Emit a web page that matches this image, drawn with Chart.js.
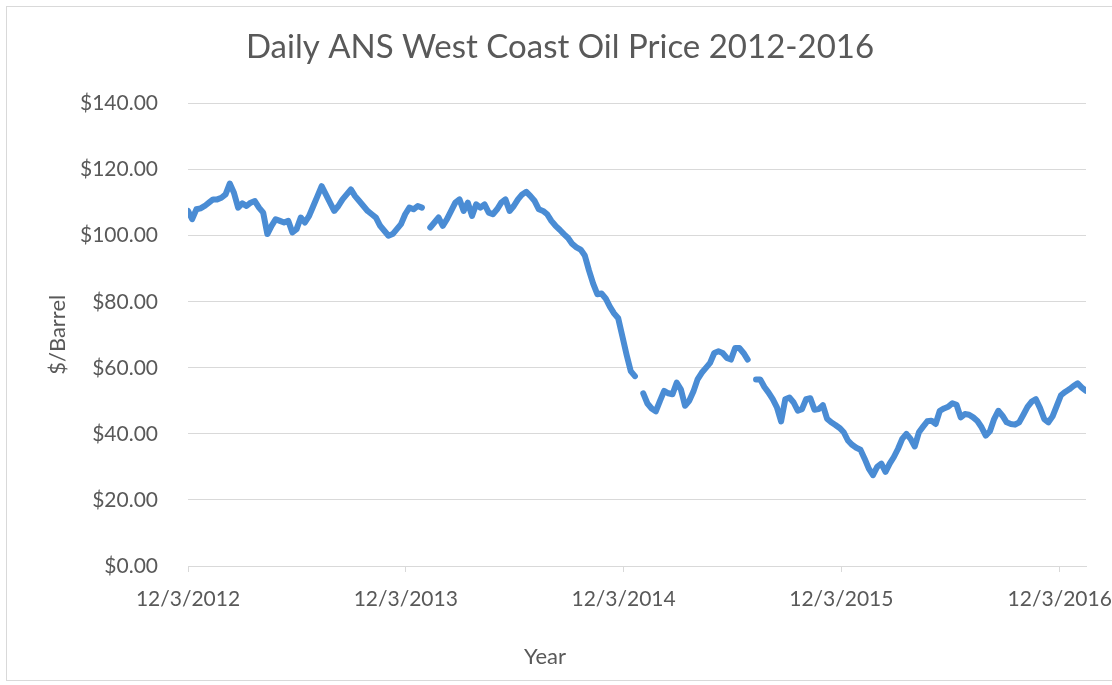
<!DOCTYPE html>
<html>
<head>
<meta charset="utf-8">
<script src="https://cdn.jsdelivr.net/npm/chart.js@4.4.1/dist/chart.umd.min.js"></script>
<style>
  html, body { margin: 0; padding: 0; background: #fff; overflow: hidden; }
  #frame { position: absolute; left: 6px; top: 6px; width: 1120px; height: 673px; border: 1px solid #d9d9d9; }
  canvas { position: absolute; left: 0; top: 0; }
</style>
</head>
<body>
<div id="frame"></div>
<canvas id="chart" width="1112" height="685"></canvas>
<script>
// weekly ANS West Coast price, first value on 12/3/2012 ($/barrel), null = missing
const firstDate = '12/3/2012'
const prices = [
  107.5, 105, 108, 108.3, 109, 110, 111, 111, 111.5, 112.5,
  115.8, 113, 108.5, 109.8, 109, 110, 110.5, 108.5, 107, 100.5,
  103, 105, 104.5, 104, 104.5, 101, 102, 105.5, 104, 106,
  109, 112, 115, 112.5, 110, 107.5, 109, 111, 112.5, 114,
  112, 110.5, 109, 107.5, 106.5, 105.5, 103, 101.5, 100, 100.5,
  102, 103.5, 106.5, 108.5, 108, 109, 108.5, null, 102.5, 104,
  105.5, 103, 105, 107.5, 110, 111, 107.5, 110, 106, 109.5,
  108.5, 109.5, 107, 106.5, 108, 110, 111, 107.5, 109, 111,
  112.5, 113.3, 112, 110.5, 108, 107.5, 106.5, 104.5, 103, 101.8,
  100.5, 99.3, 97.5, 96.5, 95.8, 94, 89.5, 85.5, 82.3, 82.5,
  81, 78.5, 76.5, 75, 69.5, 64, 59, 57.5, null, 52.3,
  49.2, 47.7, 46.8, 50, 53, 52.3, 52, 55.5, 53.5, 48.5,
  50, 52.8, 56.5, 58.5, 60, 61.5, 64.5, 65, 64.5, 63,
  62.5, 66, 66, 64.5, 62.5, null, 56.5, 56.5, 54.2, 52.5,
  50.5, 48, 43.8, 50.5, 51, 49.5, 47, 47.5, 50.5, 50.8,
  47.3, 47.5, 48.7, 44.6, 43.5, 42.7, 41.8, 40.5, 38, 36.7,
  35.8, 35.2, 32.5, 29.5, 27.5, 30, 31, 28.5, 31, 33,
  35.5, 38.5, 40, 38.5, 36.2, 40.5, 42.2, 43.8, 44, 43,
  47, 47.7, 48.2, 49.3, 48.8, 45, 46, 45.8, 45, 43.9,
  42, 39.5, 40.8, 44.5, 47, 45.5, 43.5, 43, 42.8, 43.5,
  45.8, 48.2, 49.8, 50.5, 47.8, 44.5, 43.5, 45.3, 48.5, 51.7,
  52.7, 53.5, 54.5, 55.3, 54, 53
]
const tickLabels = ['12/3/2012', '12/3/2013', '12/3/2014', '12/3/2015', '12/3/2016']
const chartTitle = 'Daily ANS West Coast Oil Price 2012-2016'
const yTitle = '$/Barrel'
const xTitle = 'Year'

const toUTC = s => {
  const [m, d, y] = s.split('/').map(Number)
  return Date.UTC(y, m - 1, d)
}
const dayOf = s => Math.round((toUTC(s) - toUTC(firstDate)) / 86400000)
const tickDays = tickLabels.map(dayOf)
const points = prices.map((v, i) => ({ x: i * 7, y: v }))

const textColor = '#595959'
const gridColor = '#d9d9d9'
const fontFamily = 'Lato, "Open Sans", sans-serif'

const xTitlePlugin = {
  id: 'xTitle',
  afterDraw(chart) {
    const ctx = chart.ctx
    ctx.save()
    ctx.font = '22px ' + fontFamily
    ctx.fillStyle = textColor
    ctx.textAlign = 'center'
    ctx.textBaseline = 'middle'
    ctx.fillText(xTitle, 545, 657)
    ctx.restore()
  }
}

const canvas = document.getElementById('chart')
new Chart(canvas, {
  type: 'line',
  data: {
    datasets: [{
      label: 'ANS West Coast',
      data: points,
      borderColor: '#4a8cd4',
      borderWidth: 6,
      pointRadius: 0,
      tension: 0,
      spanGaps: false,
      borderJoinStyle: 'round',
      borderCapStyle: 'round'
    }]
  },
  options: {
    responsive: false,
    animation: false,
    layout: { padding: { left: 34, right: 26, top: 0, bottom: 0 } },
    plugins: {
      legend: { display: false },
      tooltip: { enabled: false },
      title: {
        display: true,
        text: chartTitle,
        color: textColor,
        font: { family: fontFamily, size: 33, weight: 'normal' },
        padding: { top: 28, bottom: 36 }
      }
    },
    scales: {
      x: {
        type: 'linear',
        min: 0,
        max: (prices.length - 1) * 7,
        afterFit: scale => {
          scale.height = 119
          scale.paddingLeft = 0
          scale.paddingRight = 0
        },
        afterBuildTicks: scale => { scale.ticks = tickDays.map(v => ({ value: v })) },
        grid: { drawOnChartArea: false, drawTicks: true, tickLength: 6, color: gridColor },
        border: { display: true, color: gridColor },
        ticks: {
          autoSkip: false,
          maxRotation: 0,
          padding: 15,
          color: textColor,
          font: { family: fontFamily, size: 21 },
          callback: v => tickLabels[tickDays.indexOf(v)]
        }
      },
      y: {
        min: 0,
        max: 140,
        afterFit: scale => { scale.width = 154 },
        grid: { color: gridColor, drawTicks: false },
        border: { display: false },
        ticks: {
          stepSize: 20,
          padding: 30,
          color: textColor,
          font: { family: fontFamily, size: 21 },
          callback: v => '$' + v.toFixed(2)
        },
        title: {
          display: true,
          text: yTitle,
          color: textColor,
          font: { family: fontFamily, size: 22 },
          padding: { top: 11, bottom: 0 }
        }
      }
    }
  },
  plugins: [xTitlePlugin]
})
</script>
</body>
</html>
